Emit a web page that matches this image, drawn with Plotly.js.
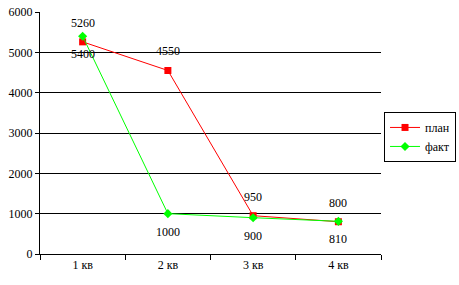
<!DOCTYPE html>
<html>
<head>
<meta charset="utf-8">
<script src="https://cdn.plot.ly/plotly-3.0.1.min.js"></script>
<style>html,body{margin:0;padding:0;background:#fff;}#chart{width:459px;height:285px;}</style>
</head>
<body>
<div id="chart"></div>
<script>
const categories = ["1 кв", "2 кв", "3 кв", "4 кв"];
const planValues = [5260, 4550, 950, 800];
const factValues = [5400, 1000, 900, 810];
const seriesNames = ["план", "факт"];

const fontFamily = "Liberation Serif";

const traces = [
  {
    x: categories, y: planValues, name: seriesNames[0],
    type: "scatter", mode: "lines+markers",
    line: {color: "#FF0000", width: 1},
    marker: {color: "#FF0000", symbol: "square", size: 7},
    cliponaxis: false
  },
  {
    x: categories, y: factValues, name: seriesNames[1],
    type: "scatter", mode: "lines+markers",
    line: {color: "#00FF00", width: 1},
    marker: {color: "#00FF00", symbol: "diamond", size: 7},
    cliponaxis: false
  }
];

const annotations = [];
categories.forEach((c, i) => {
  annotations.push({x: c, y: planValues[i], xref: "x", yref: "y", text: String(planValues[i]),
    showarrow: false, yshift: 19, font: {family: fontFamily, size: 12, color: "#000"}});
  annotations.push({x: c, y: factValues[i], xref: "x", yref: "y", text: String(factValues[i]),
    showarrow: false, yshift: -18, font: {family: fontFamily, size: 12, color: "#000"}});
});

const layout = {
  width: 459, height: 285,
  margin: {l: 40, r: 78, t: 12, b: 31, pad: 0, autoexpand: false},
  paper_bgcolor: "#fff", plot_bgcolor: "#fff",
  font: {family: fontFamily, size: 12, color: "#000"},
  showlegend: true,
  annotations: annotations,
  legend: {
    x: 1.22, xanchor: "right", y: 0.587, yanchor: "top",
    bordercolor: "#000", borderwidth: 1, bgcolor: "#fff",
    font: {family: fontFamily, size: 12, color: "#000"},
    itemwidth: 30, tracegroupgap: 0
  },
  xaxis: {
    type: "category", range: [-0.5, 3.5],
    showline: true, linecolor: "#000", linewidth: 1,
    ticks: "outside", tickson: "boundaries", ticklen: 5, tickcolor: "#000",
    showgrid: false, zeroline: false,
    tickfont: {family: fontFamily, size: 12, color: "#000"}
  },
  yaxis: {
    range: [0, 6000], dtick: 1000, tick0: 0,
    showline: true, linecolor: "#000", linewidth: 1,
    ticks: "outside", ticklen: 4, tickcolor: "#000",
    showgrid: true, gridcolor: "#000", gridwidth: 1,
    zeroline: false,
    tickfont: {family: fontFamily, size: 12, color: "#000"}
  }
};

Plotly.newPlot("chart", traces, layout, {staticPlot: true, displayModeBar: false});
</script>
</body>
</html>
